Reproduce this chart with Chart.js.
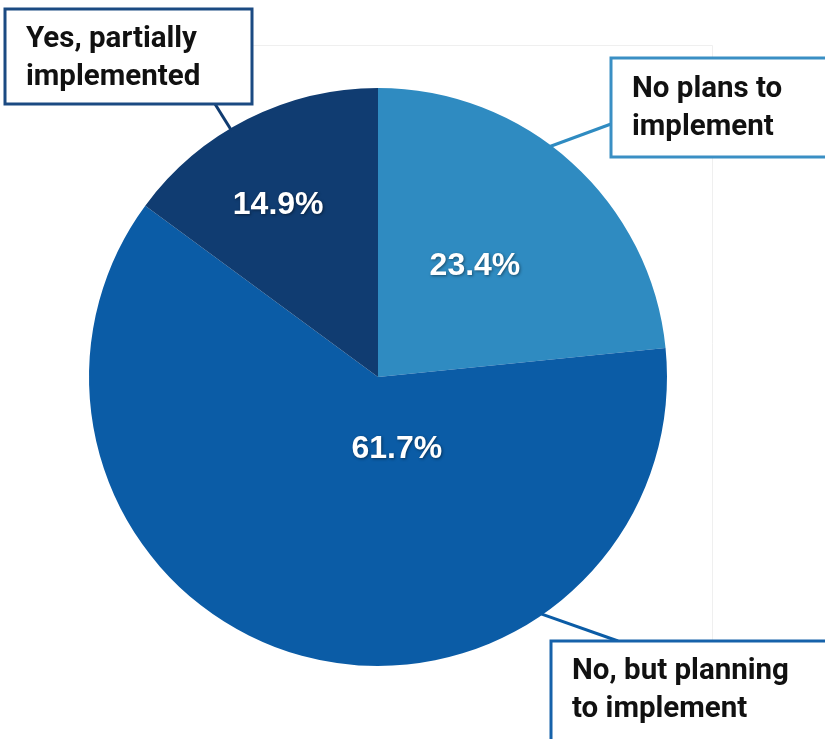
<!DOCTYPE html>
<html>
<head>
<meta charset="utf-8">
<title>Implementation status</title>
<script src="https://cdn.jsdelivr.net/npm/chart.js@4.4.1/dist/chart.umd.min.js"></script>
<style>
  html, body { margin: 0; padding: 0; background: #fff; }
  #wrap { width: 825px; height: 739px; }
</style>
</head>
<body>
<div id="wrap"><canvas id="pie" width="825" height="739"></canvas></div>
<script>
// Survey answers, clockwise from 12 o'clock
const categories = ['No plans to implement', 'No, but planning to implement', 'Yes, partially implemented'];
const shares = [23.4, 61.7, 14.9];
const calloutLines = [
  ['No plans to', 'implement'],
  ['No, but planning', 'to implement'],
  ['Yes, partially', 'implemented']
];
const sliceColors = ['#2f8bc1', '#0b5ca6', '#103c71'];

// where each % label sits: [fraction along the slice, fraction of radius]
const labelPlace = [[0.486, 0.512], [0.364, 0.254], [0.44, 0.69]];

// callout boxes: box rect, where the leader leaves the box, where it hits the slice edge
const callouts = [
  { box: [611, 58, 240, 99], from: [611, 124], along: 0.435, text: [632, 97], color: '#3a8fc4' },
  { box: [551, 641, 300, 120], from: [618, 641], along: 0.276, text: [572, 679], color: '#1662aa' },
  { box: [5, 9, 247, 95], from: [215, 104], along: 0.427, text: [26, 47], color: '#1b4a82' }
];

const calloutPlugin = {
  id: 'callouts',
  beforeDatasetsDraw(chart) {
    // faint plot frame behind the pie
    const c = chart.ctx;
    c.save();
    c.strokeStyle = '#efefef';
    c.lineWidth = 1;
    c.beginPath();
    c.moveTo(252, 45.5);
    c.lineTo(712.5, 45.5);
    c.lineTo(712.5, 641);
    c.stroke();
    c.restore();
  },
  afterDatasetsDraw(chart) {
    const c = chart.ctx;
    const arcs = chart.getDatasetMeta(0).data;
    c.save();

    // percentage labels inside the slices
    c.font = 'bold 32px "Liberation Sans", Arial, sans-serif';
    c.textAlign = 'center';
    c.textBaseline = 'middle';
    arcs.forEach((arc, i) => {
      const [f, rf] = labelPlace[i];
      const a = arc.startAngle + (arc.endAngle - arc.startAngle) * f;
      const r = arc.outerRadius * rf;
      c.shadowColor = 'rgba(0,0,0,0.45)';
      c.shadowBlur = 3;
      c.shadowOffsetX = 1;
      c.shadowOffsetY = 1;
      c.fillStyle = '#ffffff';
      c.fillText(shares[i].toFixed(1) + '%', arc.x + Math.cos(a) * r, arc.y + Math.sin(a) * r + 1);
    });
    c.shadowColor = 'transparent';

    // leader lines and boxed category names
    callouts.forEach((co, i) => {
      const arc = arcs[i];
      const a = arc.startAngle + (arc.endAngle - arc.startAngle) * co.along;
      const ex = arc.x + Math.cos(a) * (arc.outerRadius - 2);
      const ey = arc.y + Math.sin(a) * (arc.outerRadius - 2);
      c.strokeStyle = sliceColors[i];
      c.lineWidth = 3;
      c.beginPath();
      c.moveTo(co.from[0], co.from[1]);
      c.lineTo(ex, ey);
      c.stroke();

      const [bx, by, bw, bh] = co.box;
      c.fillStyle = '#ffffff';
      c.fillRect(bx, by, bw, bh);
      c.strokeStyle = co.color;
      c.lineWidth = 3;
      c.strokeRect(bx, by, bw, bh);

      c.fillStyle = '#111111';
      c.font = 'bold 29.5px Roboto, "Noto Sans", sans-serif';
      c.textAlign = 'left';
      c.textBaseline = 'alphabetic';
      calloutLines[i].forEach((line, k) => {
        c.fillText(line, co.text[0], co.text[1] + k * 38);
      });
    });
    c.restore();
  }
};

new Chart(document.getElementById('pie'), {
  type: 'pie',
  data: {
    labels: categories,
    datasets: [{
      data: shares,
      backgroundColor: sliceColors,
      borderWidth: 0,
      hoverOffset: 0
    }]
  },
  options: {
    responsive: false,
    animation: false,
    layout: { padding: { left: 89, top: 88, right: 158, bottom: 73 } },
    plugins: {
      legend: { display: false },
      tooltip: { enabled: false }
    }
  },
  plugins: [calloutPlugin]
});
</script>
</body>
</html>
